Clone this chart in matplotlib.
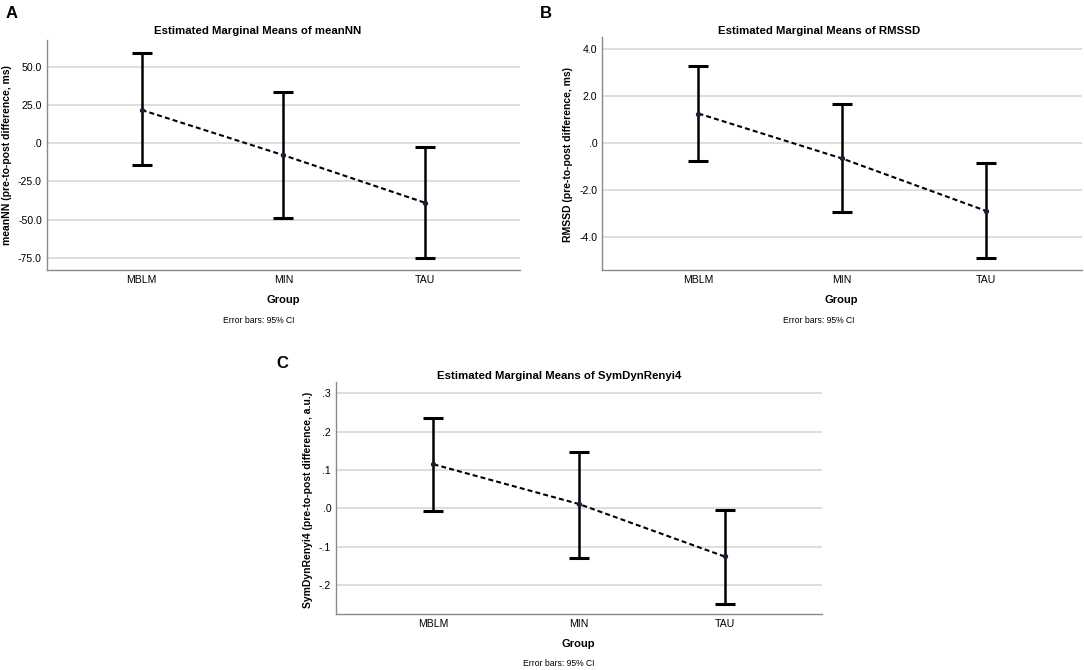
import matplotlib
matplotlib.use('Agg')
import matplotlib.pyplot as plt

plt.rcParams['font.family'] = ['Liberation Sans', 'DejaVu Sans']

grupos = ['MBLM', 'MIN', 'TAU']

# A - meanNN
media_a = [21.7, -7.8, -38.9]
sup_a = [58.7, 33.7, -2.6]
inf_a = [-14.4, -49.1, -75.2]
ticks_a = [-75, -50, -25, 0, 25, 50]
rotulos_a = ['-75.0', '-50.0', '-25.0', '.0', '25.0', '50.0']

# B - RMSSD
media_b = [1.26, -0.65, -2.87]
sup_b = [3.27, 1.65, -0.86]
inf_b = [-0.75, -2.91, -4.89]
ticks_b = [-4, -2, 0, 2, 4]
rotulos_b = ['-4.0', '-2.0', '.0', '2.0', '4.0']

# C - SymDynRenyi4
media_c = [0.115, 0.0115, -0.125]
sup_c = [0.236, 0.148, -0.003]
inf_c = [-0.006, -0.128, -0.248]
ticks_c = [-0.2, -0.1, 0, 0.1, 0.2, 0.3]
rotulos_c = ['-.2', '-.1', '.0', '.1', '.2', '.3']

W, H = 1084, 670
fig = plt.figure(figsize=(W / 100, H / 100), dpi=100)


def px(x, y):
    return x / W, 1 - y / H


def painel(caixa, media, sup, inf, ticks, rotulos, ylim, titulo, ylabel,
           letra, pos_letra, pos_titulo, pos_group, pos_erro, pos_ylabel):
    x0, y0, x1, y1 = caixa
    ax = fig.add_axes([x0 / W, 1 - y1 / H, (x1 - x0) / W, (y1 - y0) / H])
    xs = list(range(len(grupos)))
    err_sup = [s - m for s, m in zip(sup, media)]
    err_inf = [m - i for m, i in zip(media, inf)]
    ax.errorbar(xs, media, yerr=[err_inf, err_sup], fmt='none', ecolor='black',
                elinewidth=1.8, capsize=7.4, capthick=2.2, zorder=3)
    ax.plot(xs, media, color='black', lw=1.5, linestyle=(0, (2.4, 1.5)), zorder=4)
    ax.plot(xs, media, 'o', color='#1a1f3a', markersize=2.8, zorder=5)
    ax.set_xlim(-0.67, 2.67)
    ax.set_ylim(*ylim)
    ax.set_yticks(ticks)
    ax.set_yticklabels(rotulos)
    ax.set_xticks(xs)
    ax.set_xticklabels(grupos)
    ax.yaxis.grid(True, color='#d4d4d4', lw=1.1)
    ax.set_axisbelow(True)
    ax.tick_params(length=0, labelsize=7.6, pad=3.5)
    for lado in ['top', 'right']:
        ax.spines[lado].set_visible(False)
    for lado in ['left', 'bottom']:
        ax.spines[lado].set_color('#8a8a8a')
        ax.spines[lado].set_linewidth(1.0)
    fig.text(*px(*pos_letra), letra, fontsize=12, fontweight='bold',
             ha='center', va='center')
    fig.text(*px(*pos_titulo), titulo, fontsize=8.2, fontweight='bold',
             ha='center', va='center')
    fig.text(*px(*pos_group), 'Group', fontsize=8, fontweight='bold',
             ha='center', va='center')
    fig.text(*px(*pos_erro), 'Error bars: 95% CI', fontsize=6.2,
             ha='center', va='center')
    fig.text(*px(*pos_ylabel), ylabel, fontsize=7.5, fontweight='bold',
             ha='center', va='center', rotation=90)
    return ax


painel((46.7, 40, 520, 270), media_a, sup_a, inf_a, ticks_a, rotulos_a,
       (-82.8, 67.4), 'Estimated Marginal Means of meanNN',
       'meanNN (pre-to-post difference, ms)', 'A',
       (12, 13), (258, 31), (283, 300), (259, 320), (7, 155))

painel((602.3, 37.3, 1081.7, 270), media_b, sup_b, inf_b, ticks_b, rotulos_b,
       (-5.39, 4.5), 'Estimated Marginal Means of RMSSD',
       'RMSSD (pre-to-post difference, ms)', 'B',
       (546, 13), (819, 31), (841, 300), (819, 320), (568, 155))

painel((336, 381.7, 822, 614.3), media_c, sup_c, inf_c, ticks_c, rotulos_c,
       (-0.2755, 0.330), 'Estimated Marginal Means of SymDynRenyi4',
       'SymDynRenyi4 (pre-to-post difference, a.u.)', 'C',
       (282, 364), (559, 376), (578, 644), (559, 664), (308, 500))

fig.savefig('out.png', dpi=100)
plt.close('all')
